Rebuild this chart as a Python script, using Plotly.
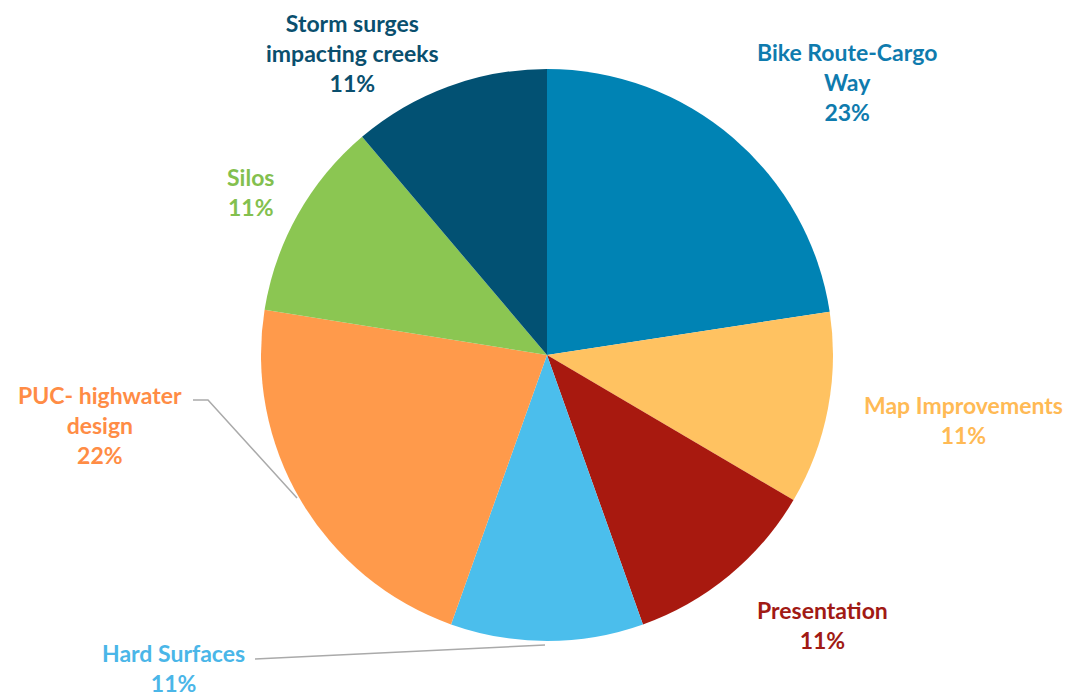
import plotly.graph_objects as go

categories = ["Bike Route-Cargo<br>Way", "Map Improvements", "Presentation", "Hard Surfaces",
              "PUC- highwater<br>design", "Silos", "Storm surges<br>impacting creeks"]
values = [22.6, 10.9, 11.1, 10.9, 22.1, 11.3, 11.2]
colors = ["#0083B4", "#FFC261", "#A8190F", "#4BBEEC", "#FF9A4B", "#8BC652", "#025173"]
label_colors = ["#0F7BAE", "#FFBA55", "#A11A14", "#4AB6E8", "#FF8C45", "#83C04E", "#0A4F6E"]

W, H, OFF = 1078, 696, 8  # page body margin shifts the plot by 8px


def px(x, y):
    return (x - OFF) / W, 1 - (y - OFF) / H


# label centres (picture pixels)
label_px = [(847, 82), (963, 420), (822, 625), (173, 668), (100, 425), (250, 192), (352, 53)]

total = sum(values)
pcts = [f"{round(v / total * 100)}%" for v in values]

cx, cy, r = 547, 355, 286
x0, y0 = px(cx - r, cy + r)
x1, y1 = px(cx + r, cy - r)

fig = go.Figure()
fig.add_trace(go.Pie(
    labels=categories, values=values, sort=False, direction="clockwise", rotation=0,
    marker=dict(colors=colors, line=dict(color="white", width=0)),
    textinfo="none", hoverinfo="label+percent", showlegend=False,
    domain=dict(x=[x0, x1], y=[y0, y1]),
))

annotations = []
for cat, p, (lx, ly), c in zip(categories, pcts, label_px, label_colors):
    x, y = px(lx, ly)
    annotations.append(dict(
        x=x, y=y, xref="paper", yref="paper", showarrow=False,
        text=f"<b>{cat}<br>{p}</b>", align="center",
        font=dict(family="Lato", size=23, color=c), xanchor="center", yanchor="middle",
    ))

shapes = []
pts = [px(193, 400), px(208, 400), px(297, 498)]
shapes.append(dict(type="path", xref="paper", yref="paper",
                   path=f"M {pts[0][0]} {pts[0][1]} L {pts[1][0]} {pts[1][1]} L {pts[2][0]} {pts[2][1]}",
                   line=dict(color="#AAAAAA", width=1.5)))
a, b = px(255, 659), px(545, 645)
shapes.append(dict(type="line", xref="paper", yref="paper", x0=a[0], y0=a[1], x1=b[0], y1=b[1],
                   line=dict(color="#AAAAAA", width=1.5)))

fig.update_layout(
    width=W, height=H, margin=dict(l=0, r=0, t=0, b=0),
    paper_bgcolor="white", plot_bgcolor="white",
    annotations=annotations, shapes=shapes,
)
fig.write_html("out.html")
